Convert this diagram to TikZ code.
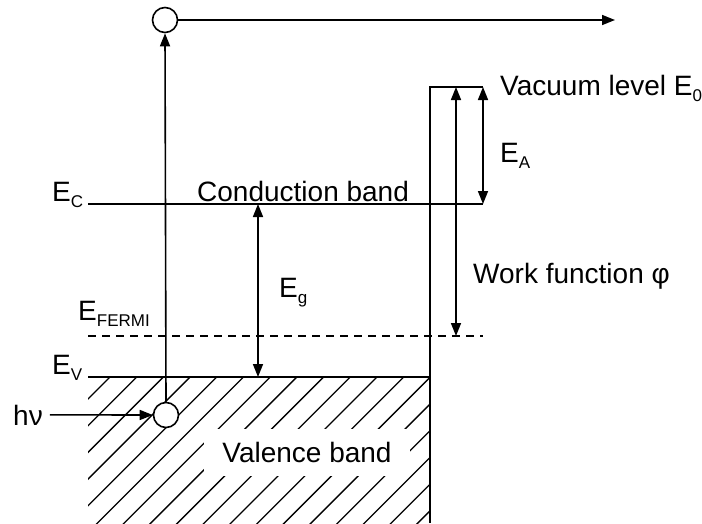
\documentclass[tikz,border=0pt]{standalone}
\usepackage{fontspec}
\setmainfont{Liberation Sans}
\usetikzlibrary{arrows.meta,positioning}
\newcommand{\lowsub}[1]{\raisebox{-6pt}{\fontsize{17}{18}\selectfont #1}}
\begin{document}
\begin{tikzpicture}[
  x=1pt,y=-1pt,
  font=\fontsize{28}{32}\selectfont,
  level/.style={line width=1.6pt},
  hatch/.style={line width=1.3pt},
  dot/.style={circle,draw,fill=white,line width=1.6pt,minimum size=25pt,inner sep=0pt},
  lbl/.style={inner sep=0pt,anchor=base west},
  line/.style={-{Triangle[length=13pt,width=10pt]},line width=1.6pt},
  both/.style={{Triangle[length=13pt,width=10pt]}-{Triangle[length=13pt,width=10pt]},line width=1.6pt}]
\useasboundingbox (0,0) rectangle (702,523);
% band edges
\coordinate (ecl) at (88,204);
\coordinate (ecr) at (483,204);
\coordinate (efl) at (88,336);
\coordinate (efr) at (483,336);
\coordinate (evl) at (88,377);
\coordinate (evr) at (430,377);
\coordinate (vacb) at (430,523);
\coordinate (vacl) at (430,87);
\coordinate (vacr) at (483,87);
\coordinate (gtop) at (258,204);
\coordinate (gbot) at (258,377);
\coordinate (wtop) at (456,87);
\coordinate (wbot) at (456,336);
\coordinate (topend) at (615,20);
% valence band hatching
\begin{scope}
\clip (evl) rectangle (vacb);
\foreach \k in {-1,...,18}
  \draw[hatch] ({110+26.7*\k},377) -- ++(-170,170);
\end{scope}
\draw[level] (ecl) -- (ecr);
\draw[level,dash pattern=on 8pt off 6pt] (efl) -- (efr);
\draw[level] (evl) -- (evr);
\draw[level] (vacb) -- (vacl) -- (vacr);
% labels
\node[lbl] (ec) at (52,201) {E\lowsub{C}};
\node[lbl] (cb) at (197,201) {Conduction band};
\node[lbl] (ef) at (78,320) {E\lowsub{FERMI}};
\node[lbl] (ev) at (52,374) {E\lowsub{V}};
\node[lbl] (eg) at (279,297) {E\lowsub{g}};
\node[lbl] (vac) at (500,95) {Vacuum level E\lowsub{0}};
\node[lbl] (ea) at (500,162) {E\lowsub{A}};
\node[lbl] (wf) at (473,283) {Work function φ};
\node[fill=white,inner xsep=18pt,minimum height=47pt] (vb) at (307,452) {Valence band};
\node[lbl] (hnu) at (13,425) {hν};
% electron
\node[dot] (top) at (165,20) {};
\node[dot] (exc) at (166,415) {};
\draw[line] ([xshift=7pt]hnu.east) -- (exc.west);
\draw[line] (exc.north) -- (top.south);
\draw[line] (top.east) -- (topend);
\draw[both] (gtop) -- (gbot);
\draw[both] (wtop) -- (wbot);
\draw[both] (vacr) -- (ecr);
\end{tikzpicture}
\end{document}
